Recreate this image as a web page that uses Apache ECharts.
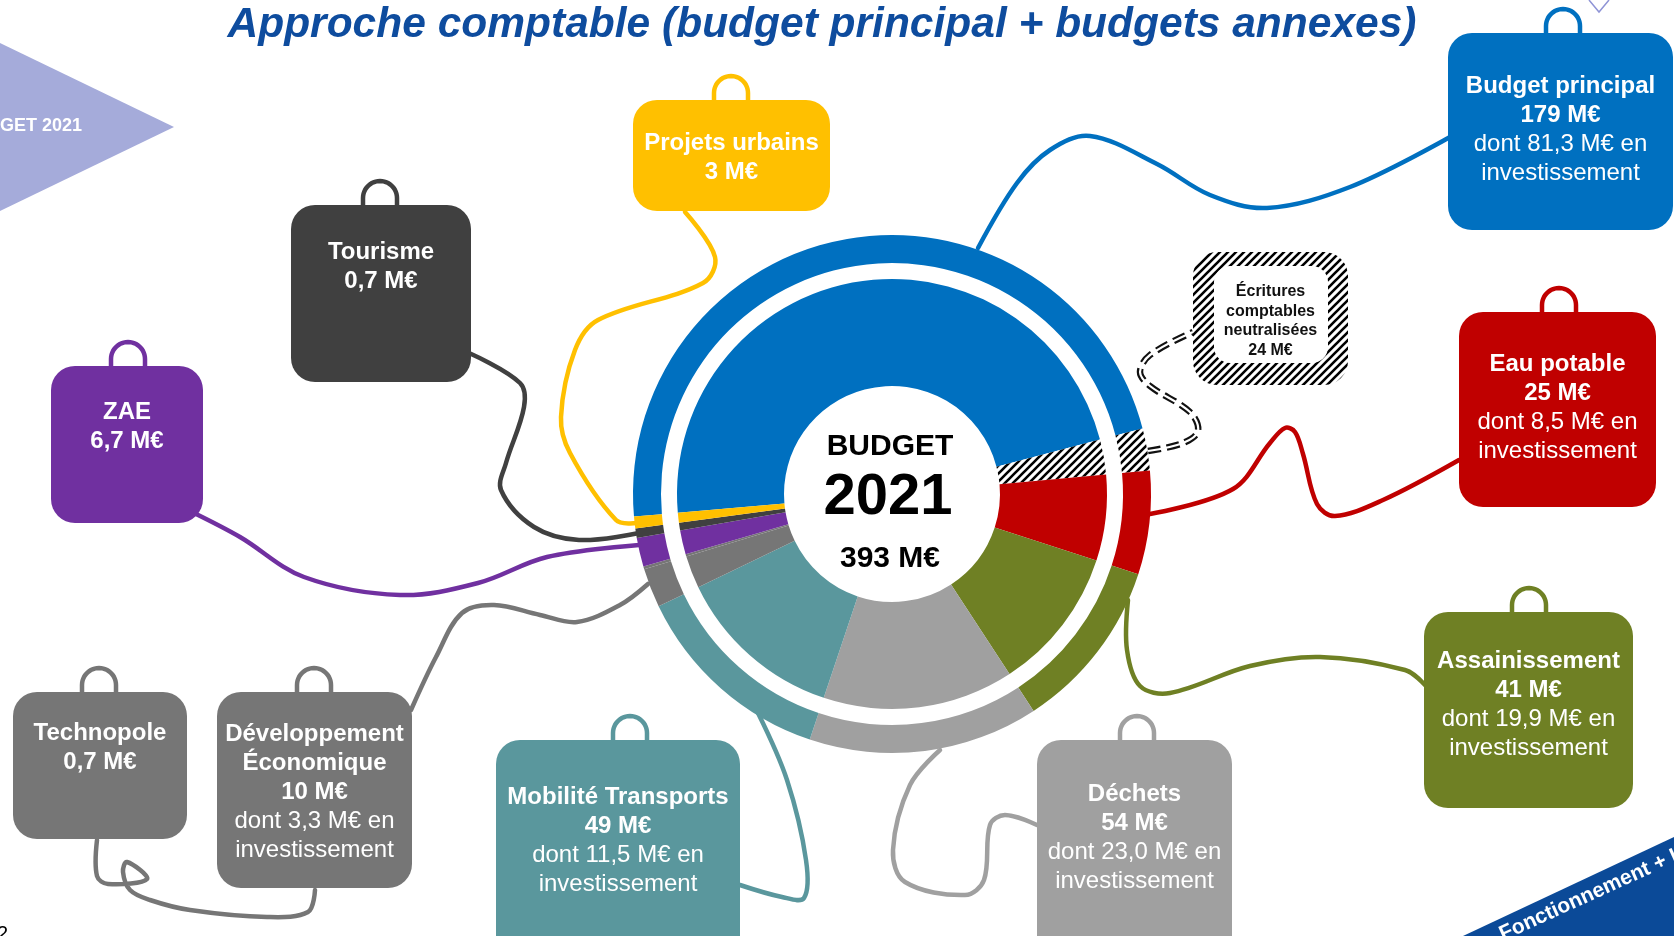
<!DOCTYPE html>
<html lang="fr">
<head>
<meta charset="utf-8">
<title>Budget 2021</title>
<style>
html, body { margin: 0; padding: 0; background: #fff; }
#main { width: 1674px; height: 936px; }
</style>
</head>
<body>
<div id="main"></div>
<script src="https://cdn.jsdelivr.net/npm/echarts@6/dist/echarts.min.js"></script>
<script>
// ---- data ----
var sliceNames = ['Budget principal', 'Écritures comptables neutralisées', 'Eau potable', 'Assainissement',
    'Déchets', 'Mobilité Transports', 'Développement Économique', 'Technopole', 'ZAE', 'Tourisme', 'Projets urbains'];
// size of each part of the ring, as drawn in the picture (M€)
var sliceValues = [186, 10.3, 25.4, 42.4, 56.4, 50.0, 9.6, 0.7, 7.1, 2.3, 2.9];
var sliceColors = ['#0070c0', 'hatch', '#c00000', '#6f8024', '#a0a0a0', '#5a979d', '#767676', '#767676', '#7030a0', '#404040', '#ffc000'];

var boxTitles = [['Budget principal'], ['Écritures', 'comptables', 'neutralisées'], ['Eau potable'], ['Assainissement'],
    ['Déchets'], ['Mobilité Transports'], ['Développement', 'Économique'], ['Technopole'], ['ZAE'], ['Tourisme'], ['Projets urbains']];
var boxAmounts = ['179 M€', '24 M€', '25 M€', '41 M€', '54 M€', '49 M€', '10 M€', '0,7 M€', '6,7 M€', '0,7 M€', '3 M€'];
var boxInvest = ['81,3', null, '8,5', '19,9', '23,0', '11,5', '3,3', null, null, null, null];

var centerTitle = ['BUDGET', '2021'];
var centerTotal = '393 M€';
var pageTitle = 'Approche comptable (budget principal + budgets annexes)';

// ---- layout ----
var FONT = '"Liberation Sans", Arial, sans-serif';
var CX = 892, CY = 494;

// x, y, w, h, handle x, text centre y
var boxLayout = [
    [1448, 33, 225, 197, 1563, 130],
    [1193, 252, 155, 133, null, 321],
    [1459, 312, 197, 195, 1559, 408],
    [1424, 612, 209, 196, 1529, 705],
    [1037, 740, 195, 220, 1137, 838],
    [496, 740, 244, 220, 630, 841],
    [217, 692, 195, 196, 314, 792],
    [13, 692, 174, 147, 99, 748],
    [51, 366, 152, 157, 128, 427],
    [291, 205, 180, 177, 380, 267],
    [633, 100, 197, 111, 731, 158]
];

// connector curves, ring -> box
var connectors = [
    [[978, 248], [1017, 183], [1050, 150], [1090, 136], [1157, 164], [1210, 195], [1267, 208], [1350, 187], [1450, 137]],
    [[1148, 451], [1183, 443], [1198, 431], [1190, 412], [1150, 386], [1140, 372], [1150, 355], [1193, 332]],
    [[1150, 514], [1233, 489], [1270, 443], [1285, 428], [1295, 432], [1303, 454], [1317, 504], [1335, 516], [1383, 500], [1459, 460]],
    [[1128, 600], [1127, 650], [1140, 686], [1170, 693], [1250, 666], [1320, 657], [1405, 670], [1425, 685]],
    [[940, 750], [910, 785], [893, 850], [905, 882], [965, 895], [984, 880], [990, 825], [1005, 815], [1037, 825]],
    [[758, 713], [787, 780], [806, 860], [804, 898], [782, 897], [740, 885]],
    [[648, 584], [620, 605], [577, 622], [540, 615], [494, 605], [462, 613], [436, 657], [411, 710]],
    [[97, 840], [97, 876], [108, 884], [147, 879], [127, 862], [123, 872], [130, 890], [150, 900], [190, 910], [267, 917], [308, 912], [315, 890]],
    [[194, 513], [240, 537], [304, 577], [400, 595], [478, 583], [547, 557], [639, 545]],
    [[469, 353], [520, 383], [524, 407], [506, 463], [501, 490], [534, 527], [579, 540], [639, 533]],
    [[685, 212], [715, 257], [703, 283], [598, 320], [575, 350], [561, 417], [570, 453], [616, 520], [637, 523]]
];

// diagonal stripes for the neutralised entries
function hatchPattern() {
    var c = document.createElement('canvas');
    c.width = 8; c.height = 8;
    var g = c.getContext('2d');
    g.fillStyle = '#fff';
    g.fillRect(0, 0, 8, 8);
    g.strokeStyle = '#000';
    g.lineWidth = 2.6;
    g.beginPath();
    g.moveTo(-1, 9); g.lineTo(9, -1);
    g.moveTo(-1, 1); g.lineTo(1, -1);
    g.moveTo(7, 9); g.lineTo(9, 7);
    g.stroke();
    return { image: c, repeat: 'repeat' };
}
var HATCH = hatchPattern();
function colorOf(i) { return sliceColors[i] === 'hatch' ? HATCH : sliceColors[i]; }

var pieData = sliceNames.map(function (n, i) {
    return { name: n, value: sliceValues[i], itemStyle: { color: colorOf(i) } };
});

function handlePoints(cx, top) {
    var r = 17, leg = 7, pts = [[cx - r, top + 2], [cx - r, top - leg]];
    for (var k = 1; k < 24; k++) {
        var a = Math.PI + Math.PI * k / 24;
        pts.push([cx + r * Math.cos(a), top - leg + r * Math.sin(a)]);
    }
    pts.push([cx + r, top - leg], [cx + r, top + 2]);
    return pts;
}

var els = [];

// background decorations
els.push({ type: 'polygon', z: 0, shape: { points: [[0, 43], [174, 127], [0, 211]] }, style: { fill: '#a5abda' } });
els.push({ type: 'text', z: 1, style: { x: 82, y: 126, text: 'BUDGET 2021', fill: '#fff', font: 'bold 18px ' + FONT, align: 'right', textAlign: 'right', verticalAlign: 'middle', textVerticalAlign: 'middle' } });
els.push({ type: 'polyline', z: 0, shape: { points: [[1589, 0], [1599, 12], [1609, 0]] }, style: { stroke: '#8f94d6', lineWidth: 1.5, fill: null } });
els.push({ type: 'polygon', z: 0, shape: { points: [[1463, 936], [1674, 837], [1674, 936]] }, style: { fill: '#0b4a98' } });
els.push({ type: 'text', z: 1, x: 1505, y: 945, rotation: 24.5 * Math.PI / 180,
    style: { x: 0, y: 0, text: 'Fonctionnement + Investissement', fill: '#fff', font: 'bold 21px ' + FONT, align: 'left', textAlign: 'left', verticalAlign: 'bottom', textVerticalAlign: 'bottom' } });
els.push({ type: 'text', z: 1, style: { x: -3, y: 924, text: '2', fill: '#000', font: '20px ' + FONT, verticalAlign: 'top', textVerticalAlign: 'top' } });

// title
els.push({ type: 'text', z: 5, style: { x: 822, y: 25, text: pageTitle, fill: '#0e4c9e', font: 'italic bold 42.5px ' + FONT, align: 'center', textAlign: 'center', verticalAlign: 'middle', textVerticalAlign: 'middle' } });

// connectors
connectors.forEach(function (pts, i) {
    if (sliceColors[i] === 'hatch') {
        els.push({ type: 'polyline', z: 1, shape: { points: pts, smooth: 0.35 }, style: { stroke: '#111', lineWidth: 6.5, lineDash: [13, 6], fill: null } });
        els.push({ type: 'polyline', z: 1, shape: { points: pts, smooth: 0.35 }, style: { stroke: '#fff', lineWidth: 2.2, fill: null } });
    } else {
        els.push({ type: 'polyline', z: 1, shape: { points: pts, smooth: 0.35 }, style: { stroke: sliceColors[i], lineWidth: 4.5, fill: null, lineJoin: 'round', lineCap: 'round' } });
    }
});

// boxes
boxLayout.forEach(function (b, i) {
    var hatch = sliceColors[i] === 'hatch';
    var x = b[0], y = b[1], w = b[2], h = b[3];
    if (b[4] !== null) {
        els.push({ type: 'polyline', z: 4, shape: { points: handlePoints(b[4], y) }, style: { stroke: sliceColors[i], lineWidth: 4.5, fill: null } });
    }
    els.push({ type: 'rect', z: 5, shape: { x: x, y: y, width: w, height: h, r: 24 }, style: { fill: colorOf(i) } });
    if (hatch) {
        els.push({ type: 'rect', z: 5, shape: { x: x + 21, y: y + 14, width: w - 41, height: h - 36, r: 16 }, style: { fill: '#fff' } });
    }
    var lines = boxTitles[i].map(function (t) { return [t, true]; });
    lines.push([boxAmounts[i], true]);
    if (boxInvest[i]) {
        lines.push(['dont ' + boxInvest[i] + ' M€ en', false]);
        lines.push(['investissement', false]);
    }
    var lh = hatch ? 19.5 : 29;
    var size = hatch ? 16 : 24;
    var y0 = b[5] - lh * (lines.length - 1) / 2;
    lines.forEach(function (ln, k) {
        els.push({ type: 'text', z: 6, style: {
            x: x + w / 2, y: y0 + k * lh, text: ln[0],
            fill: hatch ? '#111' : '#fff',
            font: (ln[1] ? 'bold ' : '') + size + 'px ' + FONT,
            align: 'center', textAlign: 'center', verticalAlign: 'middle', textVerticalAlign: 'middle'
        } });
    });
});

// centre of the ring
els.push({ type: 'text', z: 6, style: { x: 890, y: 447, text: centerTitle[0], fill: '#000', font: 'bold 30px ' + FONT, align: 'center', textAlign: 'center', verticalAlign: 'middle', textVerticalAlign: 'middle' } });
els.push({ type: 'text', z: 6, style: { x: 888, y: 498, text: centerTitle[1], fill: '#000', font: 'bold 58px ' + FONT, align: 'center', textAlign: 'center', verticalAlign: 'middle', textVerticalAlign: 'middle' } });
els.push({ type: 'text', z: 6, style: { x: 890, y: 559, text: centerTotal, fill: '#000', font: 'bold 30px ' + FONT, align: 'center', textAlign: 'center', verticalAlign: 'middle', textVerticalAlign: 'middle' } });

var myChart = echarts.init(document.getElementById('main'));
var option = {
    backgroundColor: '#fff',
    animation: false,
    series: [
        {
            name: 'intérieur',
            type: 'pie',
            z: 3,
            silent: true,
            center: [CX, CY],
            radius: [108, 215],
            startAngle: 185,
            clockwise: true,
            label: { show: false },
            labelLine: { show: false },
            itemStyle: { borderWidth: 0 },
            data: pieData
        },
        {
            name: 'extérieur',
            type: 'pie',
            z: 3,
            silent: true,
            center: [CX, CY],
            radius: [231, 259],
            startAngle: 185,
            clockwise: true,
            label: { show: false },
            labelLine: { show: false },
            itemStyle: { borderWidth: 0 },
            data: pieData
        }
    ],
    graphic: { elements: els }
};
myChart.setOption(option);
window.addEventListener('resize', function () {
    myChart.resize();
});
</script>
</body>
</html>
